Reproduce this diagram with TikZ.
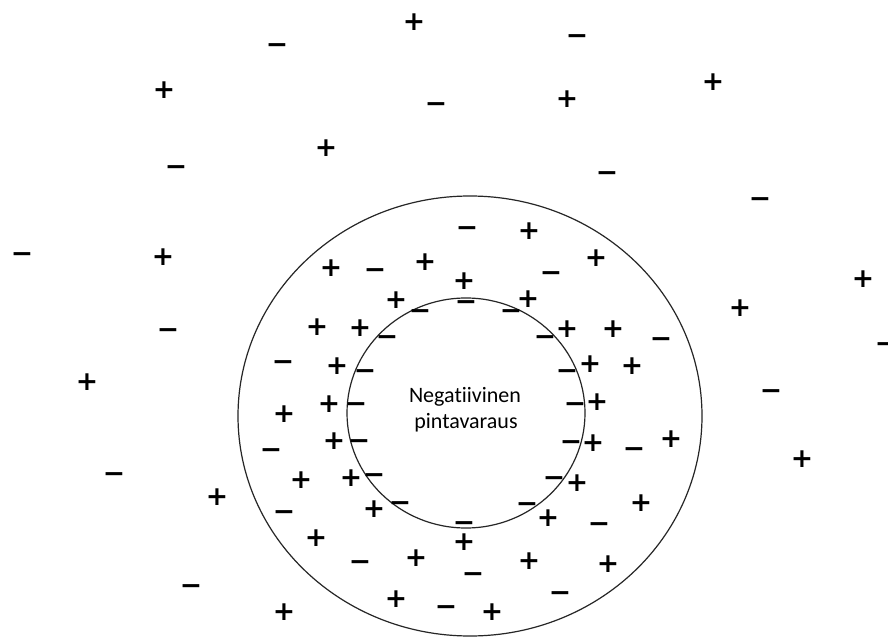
\documentclass[tikz,border=0pt]{standalone}
\usepackage{fontspec}
\newfontfamily\lblfont[Ligatures=NoCommon]{Carlito}
\newfontfamily\sgnfont{DejaVu Sans}
\tikzset{
  sgn/.style={font=\sgnfont\bfseries\fontsize{20}{24}\selectfont, inner sep=0pt, text height=13pt, text depth=0pt},
  lbl/.style={font=\lblfont\fontsize{16.5}{20}\selectfont, inner sep=0pt, anchor=base},
  ring/.style={draw=black!85, line width=0.9pt}
}
\begin{document}
\begin{tikzpicture}[x=0.75pt, y=-0.75pt]
\useasboundingbox (0,0) rectangle (888,641);
\fill[white] (0,0) rectangle (888,641);
\draw[ring] (470,416) ellipse [x radius=174pt, y radius=165pt];
\draw[ring] (466,413) ellipse [x radius=89.25pt, y radius=86.25pt];
\node[lbl] (t1) at (465,402) {Negatiivinen};
\node[lbl] (t2) at (466,428) {pintavaraus};
\foreach \px/\py [count=\i] in {414/22, 164/90, 326/148, 567/99, 713/82, 163/257, 87/382, 284/414,
  331/268, 425/262, 396/300, 317/327, 360/328, 337/366, 329/404, 334/441, 301/480, 351/478,
  374/509, 316/538, 416/558, 396/599, 284/612, 217/497, 464/281, 528/299, 529/231, 596/258,
  567/329, 613/329, 590/364, 632/366, 597/402, 593/443, 671/439, 577/483, 641/503, 548/518,
  464/542, 529/561, 608/564, 492/612, 863/279, 740/308, 802/459}
  \node[sgn] (p\i) at (\px,\py) {+};
\foreach \px/\py [count=\i] in {277/45, 436/104, 176/167, 577/36, 607/173, 760/199, 22/254, 168/330,
  283/362, 375/270, 420/311, 387/337, 365/371, 356/404, 359/441, 271/450, 374/475, 284/512,
  400/503, 360/562, 446/607, 191/586, 114/474, 467/228, 551/273, 466/302, 511/311, 545/337,
  661/339, 567/371, 575/404, 571/442, 634/449, 554/478, 527/504, 599/524, 464/523, 473/574,
  560/593, 886/344, 771/391}
  \node[sgn] (m\i) at (\px,\py) {−};
\end{tikzpicture}
\end{document}
